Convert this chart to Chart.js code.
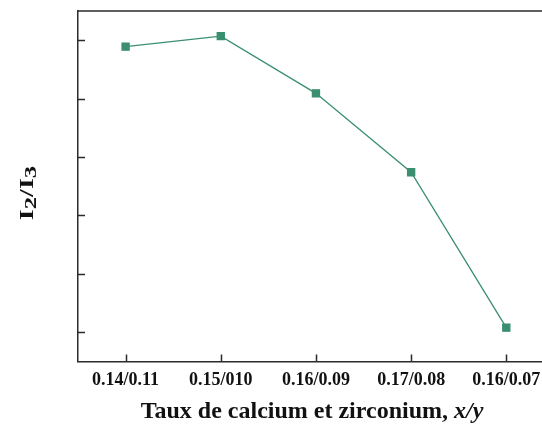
<!DOCTYPE html>
<html>
<head>
<meta charset="utf-8">
<script src="https://cdn.jsdelivr.net/npm/chart.js@4"></script>
<style>
  html, body { margin: 0; padding: 0; background: #fff; overflow: hidden; }
  canvas { display: block; }
</style>
</head>
<body>
<canvas id="ratioChart" width="542" height="425"></canvas>
<script>
// data (y has no printed values, arbitrary units)
const ratios = ['0.14/0.11', '0.15/010', '0.16/0.09', '0.17/0.08', '0.16/0.07'];
const i2i3 = [5.89, 6.07, 5.09, 3.74, 1.08];
const yTicks = [1, 2, 3, 4, 5, 6];

const serif = "'Liberation Serif', 'Times New Roman', serif";
const green = '#3a8f70';
const axisColor = '#2b2b2b';

// inward ticks, top frame line and the two axis titles
const frame = {
  id: 'frame',
  afterDraw(chart) {
    const ctx = chart.ctx;
    const a = chart.chartArea;
    const x = chart.scales.x, y = chart.scales.y;
    ctx.save();
    ctx.strokeStyle = axisColor;
    ctx.lineWidth = 1.5;
    ctx.beginPath();
    ctx.moveTo(a.left, a.top);
    ctx.lineTo(chart.width, a.top);
    y.ticks.forEach((t, i) => {
      const py = Math.round(y.getPixelForTick(i)) + 0.5;
      ctx.moveTo(a.left, py);
      ctx.lineTo(a.left + 7, py);
    });
    x.ticks.forEach((t, i) => {
      const px = Math.round(x.getPixelForTick(i)) + 0.5;
      ctx.moveTo(px, a.bottom);
      ctx.lineTo(px, a.bottom - 7);
    });
    ctx.stroke();

    ctx.fillStyle = '#111';
    ctx.textBaseline = 'alphabetic';

    // x title with italic x/y
    const t1 = 'Taux de calcium et zirconium, ';
    const t2 = 'x/y';
    ctx.font = 'bold 24px ' + serif;
    const w1 = ctx.measureText(t1).width;
    ctx.font = 'italic bold 24px ' + serif;
    const w2 = ctx.measureText(t2).width;
    let sx = 312 - (w1 + w2) / 2;
    ctx.textAlign = 'left';
    ctx.font = 'bold 24px ' + serif;
    ctx.fillText(t1, sx, 418);
    ctx.font = 'italic bold 24px ' + serif;
    ctx.fillText(t2, sx + w1, 418);

    // y title I2/I3 with subscripts
    const parts = [['I', 0, 18], ['2', 2.5, 16], ['/I', 0, 18], ['3', 2.5, 16]];
    let total = 0;
    parts.forEach(p => { ctx.font = 'bold ' + p[2] + 'px ' + serif; total += ctx.measureText(p[0]).width; });
    ctx.translate(33, 193);
    ctx.rotate(-Math.PI / 2);
    ctx.scale(1.55, 1);
    let cx = -total / 2;
    parts.forEach(p => {
      ctx.font = 'bold ' + p[2] + 'px ' + serif;
      ctx.fillText(p[0], cx, p[1]);
      cx += ctx.measureText(p[0]).width;
    });
    ctx.restore();
  }
};

const ratioChart = new Chart(document.getElementById('ratioChart'), {
  type: 'line',
  data: {
    datasets: [{
      data: i2i3.map((v, i) => ({ x: i, y: v })),
      borderColor: green,
      backgroundColor: green,
      borderWidth: 1.3,
      pointStyle: 'rect',
      pointRadius: 5,
      pointHoverRadius: 5,
      tension: 0
    }]
  },
  options: {
    responsive: false,
    animation: false,
    events: [],
    layout: { autoPadding: false, padding: { top: 11, right: 0, left: 0, bottom: 0 } },
    plugins: { legend: { display: false }, tooltip: { enabled: false } },
    scales: {
      x: {
        type: 'linear',
        min: -0.5,
        max: 4.375,
        grid: { display: false, drawTicks: false },
        border: { color: axisColor, width: 1.5 },
        ticks: {
          color: '#111',
          padding: 8,
          maxRotation: 0,
          autoSkip: false,
          font: { family: serif, size: 18, weight: 'bold' },
          callback: v => ratios[v]
        },
        afterBuildTicks: s => { s.ticks = ratios.map((_, i) => ({ value: i })); },
        afterFit: s => { s.height = 63.5; s.paddingLeft = 0; s.paddingRight = 0; }
      },
      y: {
        min: 0.5,
        max: 6.5,
        grid: { display: false, drawTicks: false },
        border: { color: axisColor, width: 1.5 },
        ticks: { display: false },
        afterBuildTicks: s => { s.ticks = yTicks.map(v => ({ value: v })); },
        afterFit: s => { s.width = 78; s.paddingTop = 0; s.paddingBottom = 0; }
      }
    }
  },
  plugins: [frame]
});
</script>
</body>
</html>
